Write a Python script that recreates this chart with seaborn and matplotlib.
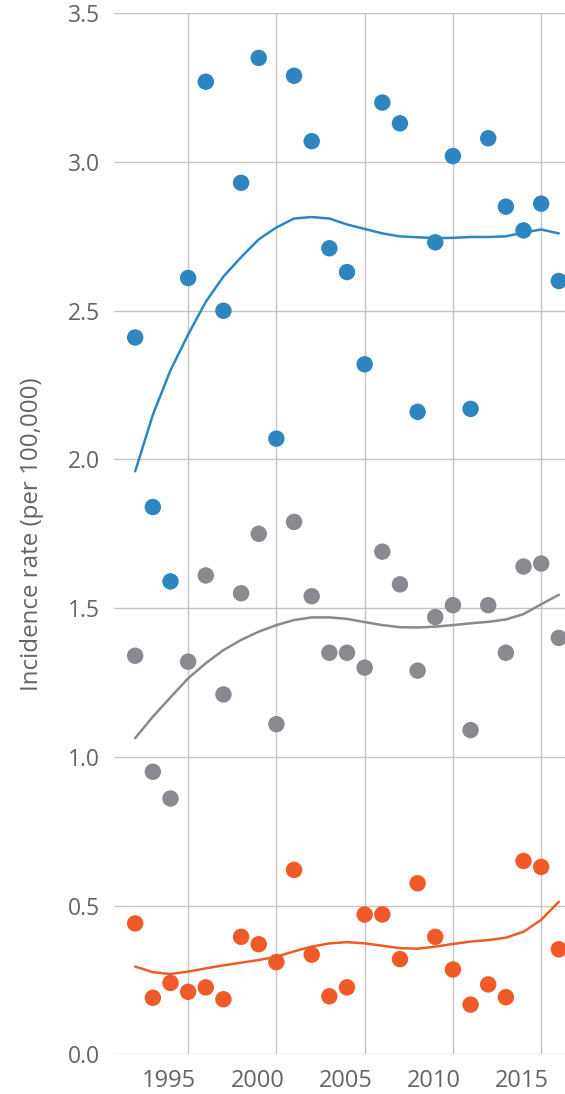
import numpy as np
import pandas as pd
import seaborn as sns
import matplotlib.pyplot as plt
import matplotlib.transforms as mtransforms

# --- data ---
years = list(range(1992, 2017))

blue_points = [2.41, 1.84, 1.59, 2.61, 3.27, 2.50, 2.93, 3.35, 2.07, 3.29,
               3.07, 2.71, 2.63, 2.32, 3.20, 3.13, 2.16, 2.73, 3.02, 2.17,
               3.08, 2.85, 2.77, 2.86, 2.60]
blue_trend = [1.96, 2.15, 2.30, 2.42, 2.53, 2.615, 2.68, 2.74, 2.78, 2.81,
              2.815, 2.81, 2.79, 2.775, 2.76, 2.75, 2.747, 2.744, 2.745, 2.748,
              2.748, 2.75, 2.763, 2.773, 2.76]

gray_points = [1.34, 0.95, 0.86, 1.32, 1.61, 1.21, 1.55, 1.75, 1.11, 1.79,
               1.54, 1.35, 1.35, 1.30, 1.69, 1.58, 1.29, 1.47, 1.51, 1.09,
               1.51, 1.35, 1.64, 1.65, 1.40]
gray_trend = [1.063, 1.135, 1.20, 1.264, 1.315, 1.359, 1.393, 1.421, 1.443, 1.46,
              1.469, 1.469, 1.464, 1.453, 1.443, 1.436, 1.435, 1.438, 1.443, 1.449,
              1.454, 1.462, 1.48, 1.513, 1.545]

orange_points = [0.44, 0.19, 0.24, 0.21, 0.225, 0.185, 0.395, 0.37, 0.31, 0.62,
                 0.335, 0.195, 0.225, 0.47, 0.47, 0.32, 0.575, 0.395, 0.285, 0.167,
                 0.235, 0.192, 0.65, 0.63, 0.353]
orange_trend = [0.295, 0.276, 0.27, 0.278, 0.289, 0.299, 0.308, 0.317, 0.328, 0.346,
                0.362, 0.373, 0.377, 0.373, 0.365, 0.357, 0.355, 0.362, 0.371, 0.379,
                0.384, 0.392, 0.412, 0.452, 0.513]

series_names = ["blue", "gray", "orange"]
palette = {"blue": "#2e86c1", "gray": "#898a90", "orange": "#ef5a28"}

x_ticks = [1995, 2000, 2005, 2010, 2015]
y_ticks = [0.0, 0.5, 1.0, 1.5, 2.0, 2.5, 3.0, 3.5]

points_df = pd.DataFrame({
    "year": years * 3,
    "rate": blue_points + gray_points + orange_points,
    "series": [s for s in series_names for _ in years],
})
trend_df = pd.DataFrame({
    "year": years * 3,
    "rate": blue_trend + gray_trend + orange_trend,
    "series": [s for s in series_names for _ in years],
})

sns.set_theme(style="whitegrid")
plt.rcParams["font.family"] = ["Open Sans", "DejaVu Sans"]
text_color = "#636469"

fig = plt.figure(figsize=(5.65, 10.94), dpi=100)
ax = fig.add_axes([114 / 565, 1 - 1054.3 / 1094, 1 - 114 / 565, (1054.3 - 13.3) / 1094])

sns.lineplot(data=trend_df, x="year", y="rate", hue="series", palette=palette,
             linewidth=1.8, legend=False, ax=ax, zorder=3)
sns.scatterplot(data=points_df, x="year", y="rate", hue="series", palette=palette,
                s=140, linewidth=0, legend=False, ax=ax, zorder=4, clip_on=True)

ax.set_xlim(1990.8, 2016.35)
ax.set_ylim(0, 3.5)
ax.set_xticks(x_ticks)
ax.set_yticks(y_ticks)
ax.set_yticklabels([f"{v:.1f}" for v in y_ticks])
ax.grid(True, color="#c3c3c8", linewidth=1.0)
for spine in ax.spines.values():
    spine.set_visible(False)
ax.tick_params(axis="both", length=0, colors=text_color)
ax.tick_params(axis="y", pad=10, labelsize=16.5)
ax.tick_params(axis="x", pad=10.5, labelsize=17)
ax.set_xlabel("")
ax.set_ylabel("Incidence rate (per 100,000)", fontsize=17.4, color=text_color, labelpad=17)

# year labels sit a little to the left of their grid lines in the reference
shift = mtransforms.ScaledTranslation(-19 / 100, 0, fig.dpi_scale_trans)
for lbl in ax.get_xticklabels():
    lbl.set_transform(lbl.get_transform() + shift)

fig.savefig("out.png", dpi=100)
